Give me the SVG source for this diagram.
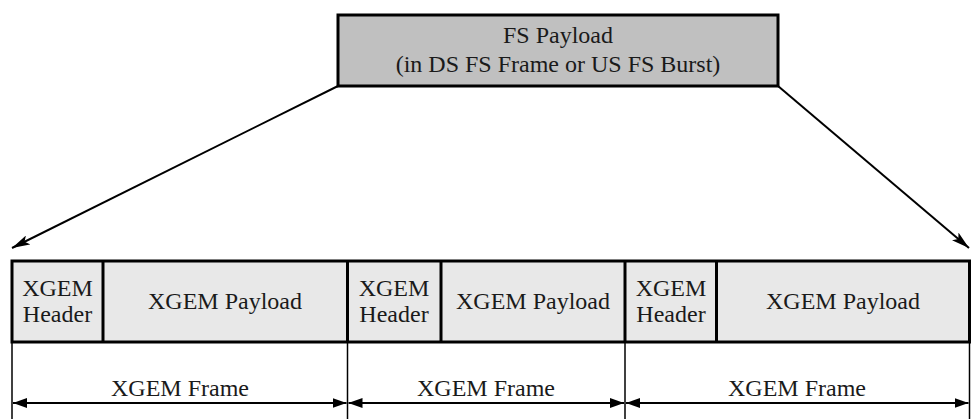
<svg xmlns="http://www.w3.org/2000/svg" width="971" height="419" viewBox="0 0 971 419">
<style>
svg text, text.t{font-family:Liberation Serif, serif !important;font-size:24px;fill:#1a1a1a;text-anchor:middle}
.cell{fill:#e8e8e8;stroke:#000;stroke-width:3}
.div{stroke:#000;stroke-width:3}
.thin{stroke:#000;stroke-width:1.5}
.dim{stroke:#000;stroke-width:2;fill:none}
.diag{stroke:#000;stroke-width:2;fill:none}
</style>
<defs>
<marker id="ah" viewBox="0 0 14 10" refX="14" refY="5" markerWidth="14" markerHeight="10" markerUnits="userSpaceOnUse" orient="auto-start-reverse">
<path d="M0,0 L14,5 L0,10 z" fill="#000"/>
</marker>
<marker id="dh" viewBox="0 0 18 10" refX="18" refY="5" markerWidth="18" markerHeight="10" markerUnits="userSpaceOnUse" orient="auto">
<path d="M0,0 L18,5 L0,10 L4,5 z" fill="#000"/>
</marker>
</defs>
<g id="fs-payload">
<rect x="338" y="15" width="440" height="71" fill="#c0c0c0" stroke="#000" stroke-width="3"/>
<text class="t" font-family="Liberation Serif" x="558" y="43">FS Payload</text>
<text class="t" font-family="Liberation Serif" x="558" y="72">(in DS FS Frame or US FS Burst)</text>
</g>
<g id="xgem-row">
<rect class="cell" x="12" y="261" width="960" height="81"/>
<line class="div" x1="103" y1="261" x2="103" y2="342"/>
<line class="div" x1="347.5" y1="261" x2="347.5" y2="342"/>
<line class="div" x1="441" y1="261" x2="441" y2="342"/>
<line class="div" x1="625" y1="261" x2="625" y2="342"/>
<line class="div" x1="716.5" y1="261" x2="716.5" y2="342"/>
<line class="div" x1="969.5" y1="261" x2="969.5" y2="342"/>
</g>
<g id="frame1">
<text class="t" font-family="Liberation Serif" x="57.5" y="296">XGEM</text>
<text class="t" font-family="Liberation Serif" x="57.5" y="322">Header</text>
<text class="t" font-family="Liberation Serif" x="225" y="309">XGEM Payload</text>
<text class="t" font-family="Liberation Serif" x="180" y="396">XGEM Frame</text>
</g>
<g id="frame2">
<text class="t" font-family="Liberation Serif" x="394" y="296">XGEM</text>
<text class="t" font-family="Liberation Serif" x="394" y="322">Header</text>
<text class="t" font-family="Liberation Serif" x="533" y="309">XGEM Payload</text>
<text class="t" font-family="Liberation Serif" x="486" y="396">XGEM Frame</text>
</g>
<g id="frame3">
<text class="t" font-family="Liberation Serif" x="671" y="296">XGEM</text>
<text class="t" font-family="Liberation Serif" x="671" y="322">Header</text>
<text class="t" font-family="Liberation Serif" x="843" y="309">XGEM Payload</text>
<text class="t" font-family="Liberation Serif" x="797" y="396">XGEM Frame</text>
</g>
<g id="connectors">
<line class="thin" x1="12" y1="342" x2="12" y2="419"/>
<line class="thin" x1="347.5" y1="342" x2="347.5" y2="419"/>
<line class="thin" x1="625" y1="342" x2="625" y2="419"/>
<line class="thin" x1="969.5" y1="342" x2="969.5" y2="419"/>
<line class="dim" x1="13" y1="403" x2="346.5" y2="403" marker-start="url(#ah)" marker-end="url(#ah)"/>
<line class="dim" x1="348.5" y1="403" x2="624" y2="403" marker-start="url(#ah)" marker-end="url(#ah)"/>
<line class="dim" x1="626" y1="403" x2="968.5" y2="403" marker-start="url(#ah)" marker-end="url(#ah)"/>
<line class="diag" x1="338" y1="86" x2="12" y2="248" marker-end="url(#dh)"/>
<line class="diag" x1="778" y1="86" x2="969" y2="248" marker-end="url(#dh)"/>
</g>
</svg>
